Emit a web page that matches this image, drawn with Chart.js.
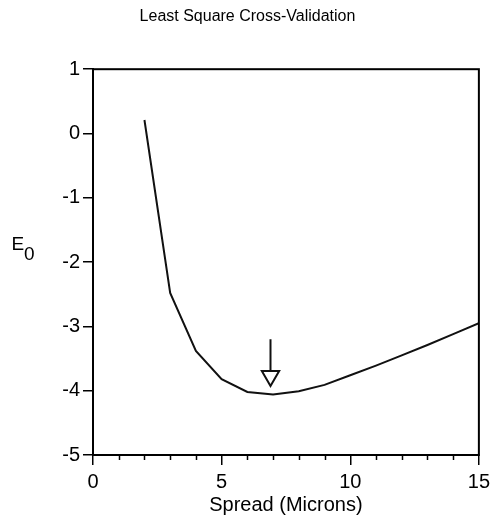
<!DOCTYPE html>
<html>
<head>
<meta charset="utf-8">
<title>Least Square Cross-Validation</title>
<script src="https://cdn.jsdelivr.net/npm/chart.js@4/dist/chart.umd.min.js"></script>
<style>
  body { margin: 0; background: #fff; }
  #wrap { width: 495px; height: 527px; position: relative; }
</style>
</head>
<body>
<div id="wrap"><canvas id="cvChart"></canvas></div>
<script>
// values
const spread = [2, 3, 4, 5, 6, 7, 8, 9, 10, 11, 12, 13, 14, 15];
const e0 = [0.21, -2.48, -3.38, -3.82, -4.02, -4.06, -4.01, -3.91, -3.76, -3.61, -3.45, -3.29, -3.12, -2.95];

// arrow marking the minimum
const arrowX = [6.9, 6.9];
const arrowY = [-3.2, -3.69];
const arrowHead = [{ x: 6.9, y: -3.77 }];

const xTicks = [0, 5, 10, 15];
const yTicks = [-5, -4, -3, -2, -1, 0, 1];

const FONT = "'Liberation Sans', Arial, sans-serif";

// box around the plot, minor ticks on x, and the E0 label
const framePlugin = {
  id: "frame",
  afterDraw(chart) {
    const ctx = chart.ctx;
    const a = chart.chartArea;
    const xs = chart.scales.x;
    ctx.save();
    ctx.strokeStyle = "#000";
    ctx.lineWidth = 2;
    ctx.strokeRect(a.left, a.top, a.right - a.left, a.bottom - a.top);

    ctx.lineWidth = 1.5;
    for (let v = xs.min; v <= xs.max; v++) {
      if (v % 5 === 0) continue;
      const px = Math.round(xs.getPixelForValue(v)) + 0.5;
      ctx.beginPath();
      ctx.moveTo(px, a.bottom);
      ctx.lineTo(px, a.bottom + 5);
      ctx.stroke();
    }

    ctx.fillStyle = "#000";
    ctx.font = "19px " + FONT;
    ctx.textBaseline = "alphabetic";
    ctx.fillText("E", 11.5, 250);
    ctx.fillText("0", 24, 259.5);
    ctx.restore();
  }
};

new Chart(document.getElementById("cvChart"), {
  type: "line",
  data: {
    datasets: [
      {
        data: spread.map((x, i) => ({ x: x, y: e0[i] })),
        borderColor: "#111",
        borderWidth: 2,
        pointRadius: 0,
        tension: 0
      },
      {
        data: arrowX.map((x, i) => ({ x: x, y: arrowY[i] })),
        borderColor: "#111",
        borderWidth: 2,
        pointRadius: 0
      },
      {
        data: arrowHead,
        showLine: false,
        pointStyle: "triangle",
        rotation: 180,
        pointRadius: 10,
        pointBackgroundColor: "#fff",
        pointBorderColor: "#111",
        pointBorderWidth: 2
      }
    ]
  },
  options: {
    responsive: true,
    maintainAspectRatio: false,
    animation: false,
    layout: { padding: { left: 13, right: 13, top: 0, bottom: 0 } },
    plugins: {
      legend: { display: false },
      tooltip: { enabled: false },
      title: {
        display: true,
        text: "Least Square Cross-Validation",
        color: "#000",
        font: { family: FONT, size: 16, weight: "normal" },
        padding: { top: 7, bottom: 43 }
      }
    },
    scales: {
      x: {
        type: "linear",
        min: xTicks[0],
        max: xTicks[xTicks.length - 1],
        afterBuildTicks: (s) => { s.ticks = xTicks.map(v => ({ value: v })); },
        afterFit: (s) => { s.height = 72; },
        grid: { drawOnChartArea: false, tickLength: 10, color: "#000", lineWidth: 1.5 },
        border: { color: "#000", width: 2 },
        ticks: { color: "#000", font: { family: FONT, size: 20 }, padding: 5, maxRotation: 0 },
        title: {
          display: true,
          text: "Spread (Microns)",
          color: "#000",
          font: { family: FONT, size: 20 },
          padding: { top: 0, bottom: 10 }
        }
      },
      y: {
        min: yTicks[0],
        max: yTicks[yTicks.length - 1],
        afterBuildTicks: (s) => { s.ticks = yTicks.map(v => ({ value: v })); },
        afterFit: (s) => { s.width = 80; },
        grid: { drawOnChartArea: false, tickLength: 10, color: "#000", lineWidth: 1.5 },
        border: { color: "#000", width: 2 },
        ticks: { color: "#000", font: { family: FONT, size: 20 }, padding: 3 }
      }
    }
  },
  plugins: [framePlugin]
});
</script>
</body>
</html>
